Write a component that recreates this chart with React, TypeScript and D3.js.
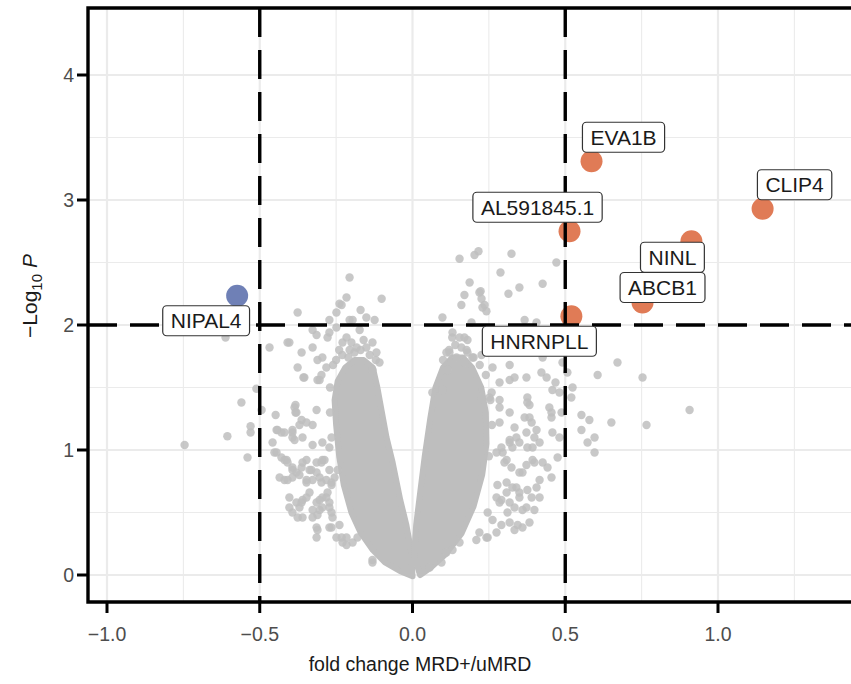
import React, { useEffect, useRef } from 'react';
import * as d3 from 'd3';

// axis ticks
const xTicks = [-1, -0.5, 0, 0.5, 1];
const xMinor = [-0.75, -0.25, 0.25, 0.75, 1.25];
const yTicks = [0, 1, 2, 3, 4];
const yMinor = [0.5, 1.5, 2.5, 3.5];
const fcCutoffs = [-0.5, 0.5];
const pCutoff = 2;

// labelled genes
const geneNames = ['NIPAL4', 'EVA1B', 'CLIP4', 'AL591845.1', 'NINL', 'ABCB1', 'HNRNPLL'];
const geneFC = [-0.574, 0.586, 1.146, 0.514, 0.913, 0.753, 0.52];
const geneLogP = [2.234, 3.31, 2.93, 2.75, 2.67, 2.18, 2.07];
const geneUp = [false, true, true, true, true, true, true];

// dense cloud of non significant genes (outline of the packed points)
const coreLeft = [
  [0.0, -0.01], [-0.04, 0.03], [-0.09, 0.1], [-0.13, 0.2], [-0.17, 0.34], [-0.2, 0.5],
  [-0.225, 0.72], [-0.24, 0.95], [-0.25, 1.2], [-0.255, 1.4], [-0.245, 1.55], [-0.22, 1.66],
  [-0.19, 1.72], [-0.16, 1.72], [-0.13, 1.66], [-0.115, 1.5], [-0.1, 1.3], [-0.085, 1.1],
  [-0.065, 0.9], [-0.04, 0.6], [-0.02, 0.4], [-0.005, 0.2]
];
const coreRight = [
  [0.005, 0.15], [0.012, 0.4], [0.022, 0.6], [0.04, 0.95], [0.058, 1.25], [0.075, 1.5],
  [0.1, 1.66], [0.13, 1.74], [0.165, 1.74], [0.195, 1.66], [0.225, 1.5], [0.24, 1.3],
  [0.242, 1.05], [0.228, 0.8], [0.2, 0.55], [0.16, 0.33], [0.11, 0.17], [0.06, 0.06], [0.025, 0.0]
];

// scattered non significant genes
const grayArmTops = [
  [-0.25, 1.72], [-0.23, 1.76], [-0.21, 1.74], [-0.19, 1.78], [-0.17, 1.8], [-0.14, 1.76],
  [-0.12, 1.72], [-0.2, 1.86], [-0.16, 1.88], [-0.24, 1.8], [-0.26, 1.68], [-0.27, 1.5],
  [-0.27, 1.3], [-0.265, 1.1], [0.1, 1.72], [0.12, 1.8], [0.14, 1.84], [0.16, 1.82],
  [0.18, 1.78], [0.2, 1.74], [0.22, 1.68], [0.13, 1.9], [0.17, 1.9], [0.24, 1.6],
  [0.255, 1.4], [0.26, 1.2], [0.25, 0.95]
];
const grayUpperLeft = [
  [-0.612, 1.9], [-0.468, 1.82], [-0.409, 1.86], [-0.376, 2.1], [-0.206, 2.38], [-0.101, 2.21],
  [-0.239, 2.17], [-0.216, 2.22], [-0.232, 2.16], [-0.249, 2.1], [-0.17, 2.12], [-0.151, 2.06],
  [-0.124, 2.04], [-0.272, 2.04], [-0.249, 1.98], [-0.206, 2.04], [-0.196, 2.04], [-0.327, 1.96],
  [-0.314, 1.92], [-0.272, 1.94], [-0.278, 1.9], [-0.216, 1.9], [-0.173, 1.96], [-0.131, 1.86],
  [-0.403, 1.86], [-0.363, 1.78], [-0.327, 1.82], [-0.376, 1.66], [-0.357, 1.58], [-0.311, 1.72],
  [-0.295, 1.74], [-0.282, 1.66], [-0.311, 1.56], [-0.118, 1.78], [-0.108, 1.7], [-0.131, 1.64],
  [-0.304, 1.56], [-0.229, 1.86], [-0.206, 1.8], [-0.183, 1.82], [-0.151, 1.82], [-0.354, 1.58],
  [-0.298, 1.6]
];
const grayLowerLeft = [
  [-0.56, 1.38], [-0.494, 1.32], [-0.448, 1.28], [-0.53, 1.19], [-0.53, 1.14], [-0.442, 1.16],
  [-0.606, 1.11], [-0.458, 1.06], [-0.746, 1.04], [-0.54, 0.94], [-0.452, 0.98], [-0.419, 0.92],
  [-0.435, 0.78], [-0.511, 1.49], [-0.383, 1.36], [-0.383, 1.3], [-0.363, 1.24], [-0.347, 1.22],
  [-0.327, 1.2], [-0.314, 1.32], [-0.429, 1.14], [-0.393, 1.14], [-0.386, 1.08], [-0.36, 1.1],
  [-0.327, 1.04], [-0.295, 1.06], [-0.272, 1.02], [-0.429, 0.94], [-0.412, 0.92], [-0.393, 0.86],
  [-0.38, 0.82], [-0.419, 0.76], [-0.36, 0.9], [-0.337, 0.84], [-0.314, 0.9], [-0.295, 0.92],
  [-0.347, 0.74], [-0.327, 0.76], [-0.298, 0.74], [-0.272, 0.84], [-0.265, 0.74], [-0.403, 0.62],
  [-0.38, 0.58], [-0.36, 0.6], [-0.337, 0.66], [-0.314, 0.58], [-0.304, 0.52], [-0.393, 0.5],
  [-0.36, 0.46], [-0.327, 0.46], [-0.282, 0.62], [-0.272, 0.54], [-0.262, 0.46], [-0.314, 0.38],
  [-0.314, 0.3], [-0.272, 0.38], [-0.249, 0.3], [-0.229, 0.26], [-0.216, 0.3], [-0.131, 0.12],
  [-0.445, 1.16], [-0.419, 1.14], [-0.393, 1.16], [-0.393, 1.1], [-0.37, 1.2], [-0.386, 1.34],
  [-0.38, 1.3], [-0.298, 0.9], [-0.288, 0.92], [-0.445, 0.98], [-0.409, 0.9], [-0.393, 0.84],
  [-0.363, 0.86], [-0.347, 0.92], [-0.409, 0.76], [-0.393, 0.78], [-0.37, 0.8], [-0.347, 0.76],
  [-0.331, 0.84], [-0.314, 0.82], [-0.363, 0.58], [-0.347, 0.62], [-0.403, 0.54], [-0.37, 0.54],
  [-0.376, 0.46], [-0.304, 0.6], [-0.295, 0.62], [-0.278, 0.66], [-0.272, 0.58], [-0.327, 0.52],
  [-0.311, 0.48], [-0.295, 0.54], [-0.265, 0.5], [-0.311, 0.36], [-0.265, 0.38], [-0.239, 0.4],
  [-0.232, 0.3], [-0.216, 0.24], [-0.196, 0.26], [-0.18, 0.3], [-0.131, 0.1], [-0.304, 0.78],
  [-0.282, 0.76], [-0.265, 0.72], [-0.255, 0.78], [-0.245, 0.84]
];
const grayUpperRight = [
  [0.154, 2.53], [0.203, 2.56], [0.216, 2.59], [0.324, 2.57], [0.471, 2.5], [0.288, 2.42],
  [0.187, 2.34], [0.426, 2.33], [0.35, 2.3], [0.314, 2.25], [0.223, 2.27], [0.226, 2.21],
  [0.236, 2.16], [0.242, 2.11], [0.17, 2.24], [0.16, 2.16], [0.098, 2.06], [0.193, 2.02],
  [0.367, 2.04], [0.406, 2.02], [0.131, 1.94], [0.154, 1.9], [0.18, 1.88], [0.121, 1.78],
  [0.144, 1.74], [0.17, 1.7], [0.196, 1.74], [0.318, 1.68], [0.426, 1.74], [0.262, 1.66],
  [0.111, 1.78], [0.115, 1.64], [0.219, 2.26], [0.229, 2.14], [0.491, 1.7], [0.671, 1.7],
  [0.606, 1.6], [0.753, 1.58], [0.507, 1.62], [0.422, 1.62], [0.439, 1.58], [0.468, 1.54],
  [0.285, 1.54], [0.318, 1.56], [0.334, 1.58], [0.373, 1.58], [0.252, 1.82], [0.226, 1.76],
  [0.177, 1.8]
];
const grayLowerRight = [
  [0.065, 1.46], [0.098, 1.48], [0.226, 1.42], [0.252, 1.42], [0.285, 1.4], [0.376, 1.42],
  [0.383, 1.36], [0.524, 1.5], [0.52, 1.42], [0.458, 1.48], [0.481, 1.46], [0.488, 1.3],
  [0.553, 1.28], [0.579, 1.24], [0.553, 1.16], [0.455, 1.26], [0.458, 1.14], [0.481, 1.1],
  [0.475, 0.94], [0.596, 1.1], [0.573, 1.06], [0.596, 0.98], [0.651, 1.22], [0.766, 1.2],
  [0.907, 1.32], [0.406, 1.16], [0.399, 1.1], [0.416, 1.06], [0.393, 1.02], [0.393, 0.92],
  [0.426, 0.9], [0.442, 0.86], [0.455, 0.78], [0.416, 0.76], [0.406, 0.7], [0.39, 0.62],
  [0.36, 0.82], [0.34, 0.7], [0.308, 0.66], [0.285, 0.58], [0.35, 0.62], [0.373, 0.54],
  [0.399, 0.52], [0.36, 0.38], [0.383, 0.42], [0.334, 0.36], [0.275, 0.34], [0.246, 0.3],
  [0.318, 1.08], [0.327, 1.02], [0.295, 0.98], [0.308, 0.92], [0.285, 1.34], [0.318, 1.3],
  [0.334, 1.18], [0.285, 1.22], [0.259, 1.46], [0.367, 1.26], [0.39, 1.22], [0.448, 1.34],
  [0.455, 1.3], [0.376, 1.38], [0.383, 1.26], [0.373, 1.14], [0.376, 1.02], [0.301, 0.9],
  [0.324, 0.86], [0.35, 0.82], [0.373, 0.88], [0.399, 0.9], [0.275, 0.98], [0.291, 1.02],
  [0.318, 1.06], [0.34, 1.1], [0.35, 1.06], [0.278, 0.72], [0.308, 0.74], [0.327, 0.7],
  [0.35, 0.66], [0.376, 0.68], [0.416, 0.62], [0.275, 0.62], [0.291, 0.6], [0.318, 0.58],
  [0.334, 0.54], [0.311, 0.5], [0.36, 0.52], [0.246, 0.5], [0.262, 0.44], [0.291, 0.4],
  [0.318, 0.42], [0.344, 0.4], [0.242, 0.3], [0.219, 0.34], [0.209, 0.28], [0.154, 0.26],
  [0.131, 0.2], [0.111, 0.18], [0.095, 0.1], [0.056, 0.06]
];

// label placement relative to its point (px), like ggrepel left them
const labelNudge = [[-31, 25], [32, -24], [32, -24], [-32, -24], [-19, 16], [20, -15], [-32, 25]];

const W = 851;
const H = 684;
const FONT = '"Liberation Sans", Arial, Helvetica, sans-serif';

function App() {
  const ref = useRef(null);

  useEffect(() => {
    const svg = d3.select(ref.current);
    svg.selectAll('*').remove();

    const left = 88, top = 8, right = W, bottom = 602;
    const x = d3.scaleLinear().domain([-1, 1]).range([107, 718]);
    const y = d3.scaleLinear().domain([0, 4]).range([575, 75]);

    svg.append('defs').append('clipPath').attr('id', 'panel')
      .append('rect').attr('x', left).attr('y', top).attr('width', right - left).attr('height', bottom - top);

    const g = svg.append('g').attr('clip-path', 'url(#panel)');

    // grid
    g.selectAll('.xminor').data(xMinor).enter().append('line')
      .attr('x1', d => x(d)).attr('x2', d => x(d)).attr('y1', top).attr('y2', bottom)
      .attr('stroke', '#ebebeb').attr('stroke-width', 1.1);
    g.selectAll('.yminor').data(yMinor).enter().append('line')
      .attr('x1', left).attr('x2', right).attr('y1', d => y(d)).attr('y2', d => y(d))
      .attr('stroke', '#ebebeb').attr('stroke-width', 1.1);
    g.selectAll('.xmajor').data(xTicks).enter().append('line')
      .attr('x1', d => x(d)).attr('x2', d => x(d)).attr('y1', top).attr('y2', bottom)
      .attr('stroke', '#ebebeb').attr('stroke-width', 2.2);
    g.selectAll('.ymajor').data(yTicks).enter().append('line')
      .attr('x1', left).attr('x2', right).attr('y1', d => y(d)).attr('y2', d => y(d))
      .attr('stroke', '#ebebeb').attr('stroke-width', 2.2);

    // dense core of the cloud
    const core = d3.line().x(d => x(d[0])).y(d => y(d[1])).curve(d3.curveLinearClosed);
    [coreLeft, coreRight].forEach(c => {
      g.append('path').attr('d', core(c)).attr('fill', '#bebebe')
        .attr('stroke', '#bebebe').attr('stroke-width', 6).attr('stroke-linejoin', 'round');
    });

    const gray = [...grayArmTops, ...grayUpperLeft, ...grayLowerLeft, ...grayUpperRight, ...grayLowerRight];
    g.selectAll('.ns').data(gray).enter().append('circle')
      .attr('cx', d => x(d[0])).attr('cy', d => y(d[1])).attr('r', 4.2)
      .attr('fill', '#bebebe').attr('fill-opacity', 0.85);

    // significant genes
    g.selectAll('.sig').data(geneNames).enter().append('circle')
      .attr('cx', (d, i) => x(geneFC[i])).attr('cy', (d, i) => y(geneLogP[i])).attr('r', 11)
      .attr('fill', (d, i) => geneUp[i] ? '#e07b56' : '#6f80b6');

    // cutoff lines
    g.selectAll('.vcut').data(fcCutoffs).enter().append('line')
      .attr('x1', d => x(d)).attr('x2', d => x(d)).attr('y1', top).attr('y2', bottom)
      .attr('stroke', '#000').attr('stroke-width', 3.4).attr('stroke-dasharray', '29,13');
    g.append('line').attr('x1', left).attr('x2', right).attr('y1', y(pCutoff)).attr('y2', y(pCutoff))
      .attr('stroke', '#000').attr('stroke-width', 3.4).attr('stroke-dasharray', '29,13');

    // labels
    geneNames.forEach((name, i) => {
      const cx = x(geneFC[i]) + labelNudge[i][0];
      const cy = y(geneLogP[i]) + labelNudge[i][1];
      const lg = svg.append('g');
      const rect = lg.append('rect');
      const t = lg.append('text').attr('x', cx).attr('y', cy).attr('dy', '0.36em')
        .attr('text-anchor', 'middle').attr('font-family', FONT).attr('font-size', 21)
        .attr('fill', '#1a1a1a').text(name);
      const w = t.node().getComputedTextLength() + 16;
      rect.attr('x', cx - w / 2).attr('y', cy - 15).attr('width', w).attr('height', 30)
        .attr('rx', 4).attr('fill', '#fff').attr('stroke', '#333').attr('stroke-width', 1.2);
    });

    // panel border and axes
    svg.append('path').attr('d', `M${right},${top}H${left}V${bottom}H${right}`)
      .attr('fill', 'none').attr('stroke', '#000').attr('stroke-width', 3.4);

    const xa = svg.append('g');
    xTicks.forEach(v => {
      xa.append('line').attr('x1', x(v)).attr('x2', x(v)).attr('y1', bottom).attr('y2', bottom + 11)
        .attr('stroke', '#000').attr('stroke-width', 3);
      xa.append('text').attr('x', x(v)).attr('y', 641).attr('text-anchor', 'middle')
        .attr('font-family', FONT).attr('font-size', 19.5).attr('fill', '#4d4d4d')
        .text(d3.format('.1f')(v));
    });
    const ya = svg.append('g');
    yTicks.forEach(v => {
      ya.append('line').attr('x1', left - 11).attr('x2', left).attr('y1', y(v)).attr('y2', y(v))
        .attr('stroke', '#000').attr('stroke-width', 3);
      ya.append('text').attr('x', 74).attr('y', y(v)).attr('dy', '0.36em').attr('text-anchor', 'end')
        .attr('font-family', FONT).attr('font-size', 19.5).attr('fill', '#4d4d4d').text(v);
    });

    svg.append('text').attr('x', 420).attr('y', 671).attr('text-anchor', 'middle')
      .attr('font-family', FONT).attr('font-size', 19.5).attr('fill', '#1a1a1a')
      .text('fold change MRD+/uMRD');

    const yt = svg.append('text').attr('transform', 'translate(37,296) rotate(-90)')
      .attr('text-anchor', 'middle').attr('font-family', FONT).attr('font-size', 21).attr('fill', '#1a1a1a');
    yt.append('tspan').text('\u2212Log');
    yt.append('tspan').attr('font-size', 15).attr('dy', 5).text('10');
    yt.append('tspan').attr('dy', -5).text(' ');
    yt.append('tspan').attr('font-style', 'italic').text('P');
  }, []);

  return (
    <svg ref={ref} width={W} height={H}
      style={{ position: 'absolute', left: 0, top: 0, background: '#fff' }} />
  );
}

export default App;
